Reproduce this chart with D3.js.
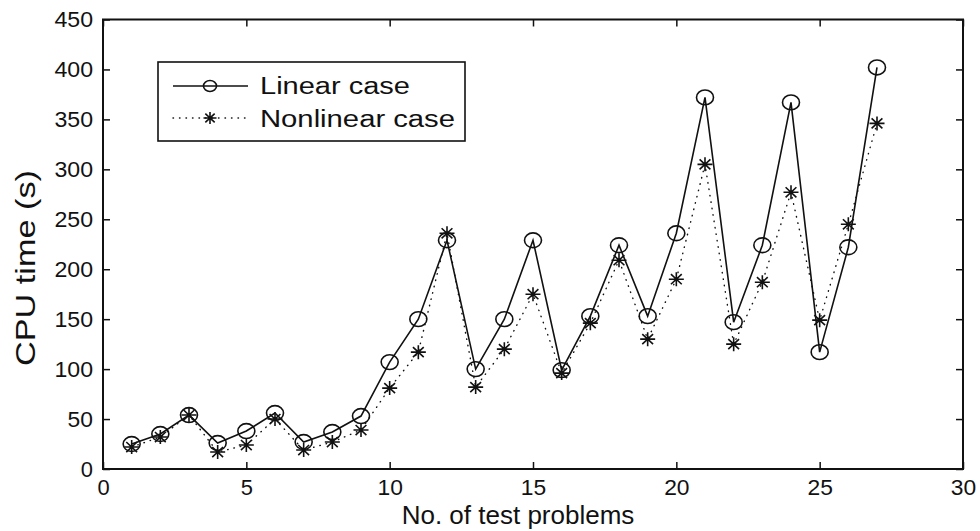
<!DOCTYPE html>
<html>
<head>
<meta charset="utf-8">
<script src="https://cdn.jsdelivr.net/npm/d3@7"></script>
<style>
  html, body { margin: 0; padding: 0; background: #ffffff; }
  svg { display: block; }
</style>
</head>
<body>
<svg id="chart"></svg>
<script>
// Values
const problems = [1, 2, 3, 4, 5, 6, 7, 8, 9, 10, 11, 12, 13, 14, 15, 16, 17, 18, 19, 20, 21, 22, 23, 24, 25, 26, 27];
const linearTimes = [25, 35, 54, 26, 38, 56, 27, 37, 53, 107, 150, 229, 100, 150, 229, 99, 153, 224, 153, 236, 372, 147, 224, 367, 117, 222, 402];
const nonlinearTimes = [22, 32, 54, 17, 24, 50, 19, 27, 39, 81, 117, 236, 82, 120, 175, 96, 146, 209, 130, 190, 305, 125, 187, 277, 149, 245, 346];
const xTicks = [0, 5, 10, 15, 20, 25, 30];
const yTicks = [0, 50, 100, 150, 200, 250, 300, 350, 400, 450];
const legendLabels = ['Linear case', 'Nonlinear case'];

const WIDTH = 980;
const HEIGHT = 531;
const PLOT_LEFT = 103;
const PLOT_RIGHT = 963;
const PLOT_TOP = 19.5;
const PLOT_BOTTOM = 469;
const TICK = 7;
const DIGIT = 13.2;
const FONT = 'Liberation Sans, Arial, Helvetica, sans-serif';

const root = d3.select('#chart')
  .attr('width', WIDTH)
  .attr('height', HEIGHT)
  .attr('viewBox', `0 0 ${WIDTH} ${HEIGHT}`);

root.append('rect')
  .attr('width', WIDTH)
  .attr('height', HEIGHT)
  .attr('fill', '#ffffff');

const x = d3.scaleLinear().domain([0, 30]).range([PLOT_LEFT, PLOT_RIGHT]);
const y = d3.scaleLinear().domain([0, 450]).range([PLOT_BOTTOM, PLOT_TOP]);

// axes: MATLAB-style box with inward ticks on all four sides
// (the scanned figure is a little wider than tall, so digits get stretched)
const axisStyle = (g) => {
  g.select('.domain').remove();
  g.selectAll('line').attr('stroke', '#111111').attr('stroke-width', 1.5);
  g.selectAll('text')
    .attr('fill', '#111111')
    .attr('font-size', 22)
    .attr('font-family', FONT)
    .each(function () {
      const label = this.textContent;
      if (label) {
        d3.select(this)
          .attr('textLength', label.length * DIGIT - 1)
          .attr('lengthAdjust', 'spacingAndGlyphs');
      }
    });
};

root.append('g')
  .attr('transform', `translate(0, ${PLOT_BOTTOM})`)
  .call(d3.axisBottom(x).tickValues(xTicks).tickFormat(d3.format('d'))
    .tickSizeInner(-TICK).tickSizeOuter(0).tickPadding(10))
  .call(axisStyle);

root.append('g')
  .attr('transform', `translate(0, ${PLOT_TOP})`)
  .call(d3.axisTop(x).tickValues(xTicks).tickFormat('')
    .tickSizeInner(-TICK).tickSizeOuter(0))
  .call(axisStyle);

root.append('g')
  .attr('transform', `translate(${PLOT_LEFT}, 0)`)
  .call(d3.axisLeft(y).tickValues(yTicks).tickFormat(d3.format('d'))
    .tickSizeInner(-TICK).tickSizeOuter(0).tickPadding(10))
  .call(axisStyle);

root.append('g')
  .attr('transform', `translate(${PLOT_RIGHT}, 0)`)
  .call(d3.axisRight(y).tickValues(yTicks).tickFormat('')
    .tickSizeInner(-TICK).tickSizeOuter(0))
  .call(axisStyle);

root.append('rect')
  .attr('x', PLOT_LEFT)
  .attr('y', PLOT_TOP)
  .attr('width', PLOT_RIGHT - PLOT_LEFT)
  .attr('height', PLOT_BOTTOM - PLOT_TOP)
  .attr('fill', 'none')
  .attr('stroke', '#111111')
  .attr('stroke-width', 2);

// axis titles
root.append('text')
  .attr('x', 518)
  .attr('y', 524)
  .attr('text-anchor', 'middle')
  .attr('fill', '#111111')
  .attr('font-size', 26)
  .attr('font-family', FONT)
  .text('No. of test problems');

root.append('text')
  .attr('transform', 'translate(35, 268) rotate(-90)')
  .attr('text-anchor', 'middle')
  .attr('fill', '#111111')
  .attr('font-size', 28)
  .attr('font-family', FONT)
  .attr('textLength', 196)
  .attr('lengthAdjust', 'spacingAndGlyphs')
  .text('CPU time (s)');

const lineGen = d3.line()
  .x((d) => x(d[0]))
  .y((d) => y(d[1]));

const linearPts = problems.map((p, i) => [p, linearTimes[i]]);
const nonlinearPts = problems.map((p, i) => [p, nonlinearTimes[i]]);

root.append('path')
  .attr('d', lineGen(nonlinearPts))
  .attr('fill', 'none')
  .attr('stroke', '#111111')
  .attr('stroke-width', 1.4)
  .attr('stroke-linecap', 'round')
  .attr('stroke-dasharray', '0.5 6');

root.append('path')
  .attr('d', lineGen(linearPts))
  .attr('fill', 'none')
  .attr('stroke', '#111111')
  .attr('stroke-width', 1.6);

function drawCircle(g, cx, cy, rx, ry) {
  g.append('ellipse')
    .attr('cx', cx)
    .attr('cy', cy)
    .attr('rx', rx)
    .attr('ry', ry)
    .attr('fill', 'none')
    .attr('stroke', '#111111')
    .attr('stroke-width', 1.6);
}

function drawStar(g, cx, cy, sx, sy) {
  const d = sx * 0.72;
  const e = sy * 0.72;
  const path = `M${cx - sx},${cy}L${cx + sx},${cy}` +
    `M${cx},${cy - sy}L${cx},${cy + sy}` +
    `M${cx - d},${cy - e}L${cx + d},${cy + e}` +
    `M${cx - d},${cy + e}L${cx + d},${cy - e}`;
  g.append('path')
    .attr('d', path)
    .attr('fill', 'none')
    .attr('stroke', '#111111')
    .attr('stroke-width', 1.6);
}

const markers = root.append('g');
linearPts.forEach((p) => drawCircle(markers, x(p[0]), y(p[1]), 8.5, 7.4));
nonlinearPts.forEach((p) => drawStar(markers, x(p[0]), y(p[1]), 7.5, 7));

// legend
const legend = root.append('g');
legend.append('rect')
  .attr('x', 158)
  .attr('y', 62)
  .attr('width', 307)
  .attr('height', 79)
  .attr('fill', '#ffffff')
  .attr('stroke', '#111111')
  .attr('stroke-width', 1.6);

legend.append('line')
  .attr('x1', 173).attr('x2', 248)
  .attr('y1', 86).attr('y2', 86)
  .attr('stroke', '#111111')
  .attr('stroke-width', 1.6);
drawCircle(legend, 210, 86, 6.5, 5.5);

legend.append('line')
  .attr('x1', 173).attr('x2', 248)
  .attr('y1', 118).attr('y2', 118)
  .attr('stroke', '#111111')
  .attr('stroke-width', 1.4)
  .attr('stroke-linecap', 'round')
  .attr('stroke-dasharray', '0.5 6');
drawStar(legend, 210, 118, 6.5, 6);

legendLabels.forEach((label, i) => {
  legend.append('text')
    .attr('x', 260)
    .attr('y', 94 + i * 33)
    .attr('fill', '#111111')
    .attr('font-size', 23)
    .attr('font-family', FONT)
    .attr('textLength', i === 0 ? 150 : 195)
    .attr('lengthAdjust', 'spacingAndGlyphs')
    .text(label);
});
</script>
</body>
</html>
